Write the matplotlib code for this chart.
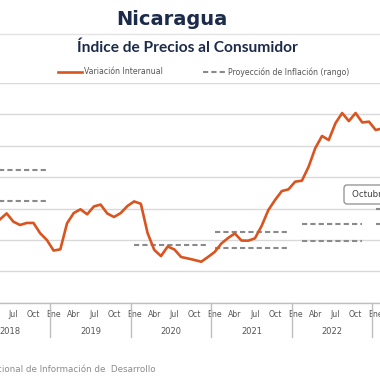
import matplotlib
matplotlib.use("Agg")
import matplotlib.pyplot as plt
from matplotlib.lines import Line2D
from matplotlib.patches import FancyBboxPatch
import numpy as np

# ---- data ----
# month index: 0 = Ene 2018
months = list(range(3, 62))
inflation = [4.9, 5.31, 5.69, 5.16, 4.95, 5.08, 5.08, 4.42, 3.99,
             3.32, 3.40, 5.06, 5.71, 5.95, 5.63, 6.13, 6.25, 5.68, 5.46, 5.71, 6.16,
             6.45, 6.30, 4.44, 3.36, 2.97, 3.58, 3.39, 2.91, 2.82, 2.72, 2.61, 2.91,
             3.23, 3.77, 4.12, 4.41, 3.96, 3.95, 4.10, 4.89, 5.90, 6.54, 7.11, 7.22,
             7.71, 7.77, 8.66, 9.85, 10.62, 10.36, 11.43, 12.08, 11.57, 12.08, 11.48, 11.53,
             11.0, 11.1]

# projection ranges: (start month, end month, value)
proj_segments = [
    (0, 11, 8.45), (0, 11, 6.48),
    (24, 35, 3.67),
    (36, 47, 4.5), (36, 47, 3.46),
    (49, 58, 5.0), (49, 58, 3.95),
    (60, 71, 6.0), (60, 71, 5.0),
]

month_labels = ["Ene", "Abr", "Jul", "Oct"]
years = [2018, 2019, 2020, 2021, 2022]
last_tick_label = "Ene"   # Ene 2023, at the right edge
last_tick_month = 60

ORANGE = "#D9541F"
GRAY_DASH = "#8a8a8a"
GRID = "#d9d9d9"
NAVY = "#1c2b4a"
TXT = "#555555"

W, H = 380, 380
fig = plt.figure(figsize=(3.8, 3.8), dpi=100)

def fx(px):
    return px / W

def fy(py):
    return 1 - py / H

ax_bottom_px, ax_top_px = 302.7, 82.9
ax = fig.add_axes([0, fy(ax_bottom_px), 1, (ax_bottom_px - ax_top_px) / H])
# mapping x_px = -26.9 + 6.71 * m
m_left = 26.9 / 6.71
m_right = (380 + 26.9) / 6.71

for s in ["top", "left", "right"]:
    ax.spines[s].set_visible(False)
ax.spines["bottom"].set_color("#bfbfbf")
ax.spines["bottom"].set_linewidth(1.0)
ax.set_yticks(np.arange(0, 15, 2))
ax.yaxis.grid(True, color=GRID, linewidth=1.0)
ax.set_axisbelow(True)
ax.tick_params(axis="y", left=False, labelleft=False)

# month ticks
tick_pos = []
tick_lab = []
for yr in years:
    base = (yr - 2018) * 12
    for k, lab in enumerate(month_labels):
        if base + 3 * k >= 6:
            tick_pos.append(base + 3 * k)
            tick_lab.append(lab)
tick_pos.append(last_tick_month)
tick_lab.append(last_tick_label)
ax.set_xticks(tick_pos)
ax.set_xticklabels(tick_lab, fontsize=5.6, color=TXT)
ax.tick_params(axis="x", length=0, pad=5.0)

# year separators and labels
for yr in years + [2023]:
    base = (yr - 2018) * 12
    sep = base - 0.5
    ax.plot([sep, sep], [0, -(336.7 - 302.7) / 15.7], color="#bfbfbf", lw=1.0,
            clip_on=False, zorder=1)
for yr in years:
    base = (yr - 2018) * 12
    ax.text(base + 5.5, -(331 - 302.7) / 15.7, str(yr), ha="center", va="center",
            fontsize=6.0, color=TXT, clip_on=False)

# projection dashed segments
for (a, b, v) in proj_segments:
    ax.plot([a, b], [v, v], color=GRAY_DASH, lw=1.5, dashes=(2.5, 1.5),
            solid_capstyle="butt", dash_capstyle="butt", zorder=2)

# inflation line
ax.plot(months, inflation, color=ORANGE, lw=1.9, solid_joinstyle="round",
        solid_capstyle="round", zorder=3)

ax.set_xlim(m_left, m_right)
ax.set_ylim(0, 14)

# annotation box
box = FancyBboxPatch((fx(344), fy(204)), fx(60), (204 - 185) / H,
                     boxstyle="round,pad=0,rounding_size=0.008",
                     transform=fig.transFigure, facecolor="white",
                     edgecolor="#8c8c8c", linewidth=0.9, zorder=5)
fig.add_artist(box)
fig.text(fx(351.5), fy(194.5), "Octubre 2022", fontsize=6.3, color="#404040",
         ha="left", va="center", zorder=6)

# titles
fig.text(fx(171.5), fy(19.3), "Nicaragua", fontsize=14, fontweight="bold",
         color=NAVY, ha="center", va="center", family="DejaVu Sans")
fig.add_artist(Line2D([0, 1], [fy(34), fy(34)], transform=fig.transFigure,
                      color="#e3e3e3", lw=1.0))
fig.text(fx(187.5), fy(48), "Índice de Precios al Consumidor", fontsize=11.2,
         fontweight="bold", color=NAVY, ha="center", va="center", family="Lato")

# legend
fig.add_artist(Line2D([fx(58.3), fx(81.7)], [fy(72), fy(72)], transform=fig.transFigure,
                      color=ORANGE, lw=1.9))
fig.text(fx(83.5), fy(72), "Variación Interanual", fontsize=5.6, color=TXT,
         ha="left", va="center")
fig.add_artist(Line2D([fx(202.7), fx(225)], [fy(72), fy(72)], transform=fig.transFigure,
                      color=GRAY_DASH, lw=1.5, dashes=(2.5, 1.5)))
fig.text(fx(228), fy(72), "Proyección de Inflación (rango)", fontsize=5.6, color=TXT,
         ha="left", va="center")

# footer
fig.text(fx(156), fy(370), "Fuente: Instituto Nacional de Información de  Desarrollo",
         fontsize=6.3, color="#8c8c8c", ha="right", va="center")

fig.savefig("out.png", dpi=100)
